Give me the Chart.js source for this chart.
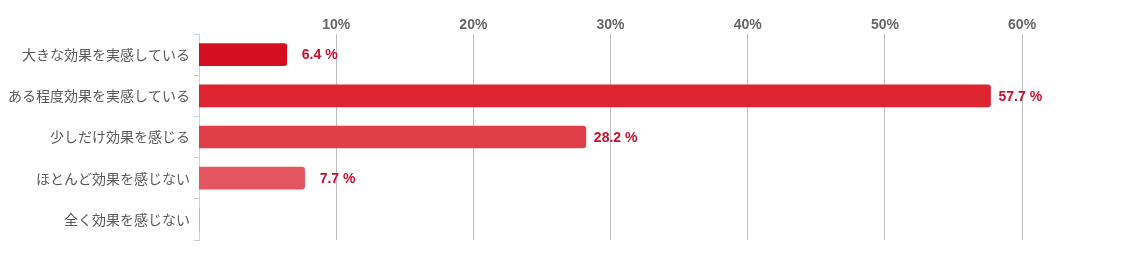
<!DOCTYPE html>
<html>
<head>
<meta charset="utf-8">
<script src="https://cdn.jsdelivr.net/npm/chart.js@4"></script>
<style>
  html, body { margin: 0; padding: 0; background: #fff; }
  #wrap { width: 1124px; height: 255px; }
</style>
</head>
<body>
<div id="wrap"><canvas id="chart" width="1124" height="255"></canvas></div>
<script>
const categories = [
  '大きな効果を実感している',
  'ある程度効果を実感している',
  '少しだけ効果を感じる',
  'ほとんど効果を感じない',
  '全く効果を感じない'
];
const values = [6.4, 57.7, 28.2, 7.7, 0];
const barColors = ['#d50f1f', '#dc2531', '#e03f4a', '#e35660', '#e66a73'];
const xTicks = [10, 20, 30, 40, 50, 60];

// writes "57.7 %" just past the end of each bar
const valueLabels = {
  id: 'valueLabels',
  afterDatasetsDraw(chart) {
    const ctx = chart.ctx;
    const meta = chart.getDatasetMeta(0);
    ctx.save();
    ctx.font = 'bold 14px "Liberation Sans", Arial, sans-serif';
    ctx.fillStyle = '#c8102e';
    ctx.textBaseline = 'middle';
    ctx.textAlign = 'left';
    meta.data.forEach((bar, i) => {
      if (!values[i]) return;
      const gap = values[i] < 10 ? 15 : 8;
      ctx.fillText(values[i] + ' %', bar.x + gap, bar.y + 1);
    });
    ctx.restore();
  }
};

new Chart(document.getElementById('chart').getContext('2d'), {
  type: 'bar',
  data: {
    labels: categories,
    datasets: [{
      data: values,
      backgroundColor: barColors,
      barThickness: 22,
      borderRadius: 3,
      borderSkipped: 'start'
    }]
  },
  options: {
    indexAxis: 'y',
    responsive: false,
    animation: false,
    layout: { padding: { left: 0, right: 10, top: 0, bottom: 15 } },
    plugins: {
      legend: { display: false },
      tooltip: { enabled: false }
    },
    scales: {
      x: {
        position: 'top',
        min: 0,
        max: 66.7,
        afterBuildTicks: (scale) => {
          scale.ticks = xTicks.map(v => ({ value: v }));
        },
        afterFit: (scale) => { scale.height = 34; },
        border: { display: false },
        grid: { color: '#bdbdbd', drawTicks: false },
        ticks: {
          padding: 0,
          color: '#666',
          font: { family: '"Liberation Sans", Arial, sans-serif', size: 14, weight: 'bold' },
          callback: (v) => v + '%'
        }
      },
      y: {
        afterFit: (scale) => { scale.width = 199; },
        border: { color: '#c5d3e0' },
        grid: { drawOnChartArea: false, offset: true, tickLength: 5, color: '#c5d3e0' },
        ticks: {
          padding: 4,
          color: '#5a5a5a',
          font: { family: '"Noto Sans CJK JP", sans-serif', size: 14 }
        }
      }
    }
  },
  plugins: [valueLabels]
});
</script>
</body>
</html>
